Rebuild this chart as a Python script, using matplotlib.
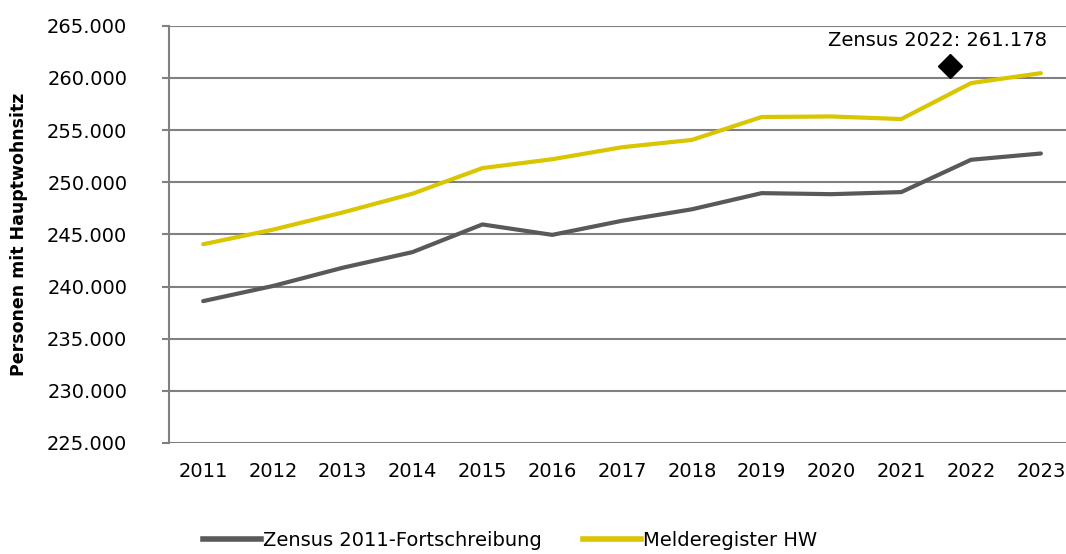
import matplotlib.pyplot as plt
from matplotlib.lines import Line2D

# Data
years = ['2011', '2012', '2013', '2014', '2015', '2016', '2017',
         '2018', '2019', '2020', '2021', '2022', '2023']
zensus_2011 = [238600, 240050, 241800, 243300, 245950, 244950, 246300,
               247400, 248950, 248850, 249050, 252150, 252750]
melderegister = [244050, 245450, 247100, 248900, 251350, 252200, 253350,
                 254050, 256250, 256300, 256050, 259500, 260450]
zensus_2022_pos = 10.7
zensus_2022_value = 261178

plt.rcParams['font.family'] = ['DejaVu Sans']

grey = '#808080'
dark = '#595959'
yellow = '#D9C500'


def fmt(v):
    return f'{v:,.0f}'.replace(',', '.')


fig = plt.figure(figsize=(10.66, 5.54), dpi=100)
ax = fig.add_axes([0.1585, 0.2004, 0.8415, 0.7532])

x = range(len(years))
ax.plot(x, zensus_2011, color=dark, lw=3.0, solid_capstyle='round', zorder=3)
ax.plot(x, melderegister, color=yellow, lw=3.0, solid_capstyle='round', zorder=3)
ax.plot([zensus_2022_pos], [zensus_2022_value], marker='D', ms=12, color='black',
        linestyle='none', zorder=4)
ax.text(zensus_2022_pos - 0.18, zensus_2022_value + 2450,
        'Zensus 2022: ' + fmt(zensus_2022_value),
        ha='center', va='center', fontsize=14, color='black')

ax.set_ylim(225000, 265000)
ax.set_xlim(-0.49, 12.36)
yt = list(range(225000, 265001, 5000))
ax.set_yticks(yt)
ax.set_yticklabels([fmt(v) for v in yt], fontsize=14)
ax.set_xticks(list(x))
ax.set_xticklabels(years, fontsize=14)
ax.tick_params(axis='x', length=0, pad=14)
ax.tick_params(axis='y', direction='out', length=5, width=1.5, color=grey, pad=25)

ax.grid(axis='y', color=grey, lw=1.5)
ax.set_axisbelow(True)
for s in ['top', 'right', 'bottom']:
    ax.spines[s].set_visible(False)
ax.spines['left'].set_color(grey)
ax.spines['left'].set_linewidth(1.5)

ax.set_ylabel('Personen mit Hauptwohnsitz', fontsize=12.5, fontweight='bold')
ax.yaxis.set_label_coords(-0.157, 0.5)

handles = [Line2D([], [], color=dark, lw=4),
           Line2D([], [], color=yellow, lw=4)]
fig.legend(handles, ['Zensus 2011-Fortschreibung', 'Melderegister HW'],
           loc='center', bbox_to_anchor=(0.4785, 0.024), ncol=2, frameon=False,
           fontsize=14, handlelength=3.0, handletextpad=0.1, columnspacing=2.1)

fig.savefig('out.png', dpi=100)
